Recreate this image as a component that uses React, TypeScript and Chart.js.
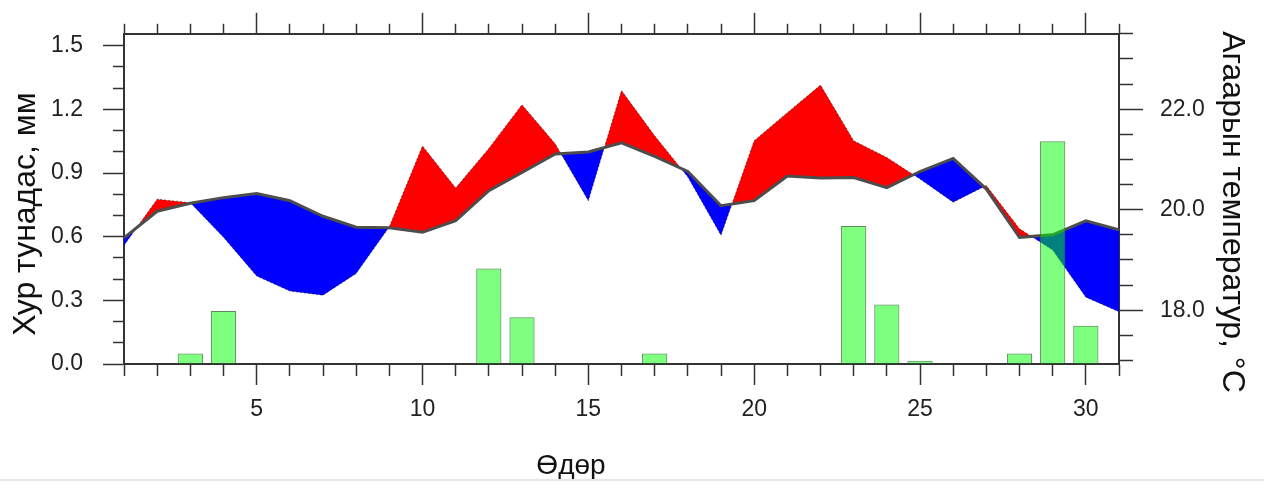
import React, { useEffect, useRef } from "react";
import { Chart, registerables } from "chart.js";

Chart.register(...registerables);

// ---- data ----
const days = [
  1, 2, 3, 4, 5, 6, 7, 8, 9, 10, 11, 12, 13, 14, 15, 16,
  17, 18, 19, 20, 21, 22, 23, 24, 25, 26, 27, 28, 29, 30, 31,
];
const normalTemp = [
  19.44, 19.97, 20.13, 20.24, 20.32, 20.18, 19.87, 19.65, 19.64, 19.55,
  19.78, 20.38, 20.74, 21.11, 21.15, 21.33, 21.06, 20.76, 20.08, 20.18,
  20.67, 20.63, 20.64, 20.44, 20.76, 21.02, 20.41, 19.45, 19.5, 19.78, 19.6,
];
const actualTemp = [
  19.29, 20.21, 20.14, 19.45, 18.68, 18.38, 18.3, 18.73, 19.66, 21.27,
  20.43, 21.22, 22.09, 21.31, 20.18, 22.37, 21.47, 20.65, 19.49, 21.37,
  21.93, 22.48, 21.37, 21.04, 20.61, 20.15, 20.48, 19.62, 19.2, 18.26, 17.97,
];
const rainDays = [3, 4, 12, 13, 17, 23, 24, 25, 28, 29, 30];
const rainValues = [0.05, 0.25, 0.45, 0.22, 0.05, 0.65, 0.28, 0.015, 0.05, 1.05, 0.18];

const xTickLabels = [5, 10, 15, 20, 25, 30];
const rainTickLabels = [0.0, 0.3, 0.6, 0.9, 1.2, 1.5];
const tempTickLabels = [18, 20, 22];

const yTitle = "Хур тунадас, мм";
const y2Title = "Агаарын температур, °С";
const xTitle = "Өдөр";

const FONT = '"Liberation Sans", Arial, Helvetica, sans-serif';
const AXIS_COLOR = "#333333";

const isIn = (v: number, list: number[]) => list.some((t) => Math.abs(t - v) < 1e-6);

const titlesPlugin = {
  id: "axisTitles",
  afterDraw(chart: any) {
    const ctx = chart.ctx as CanvasRenderingContext2D;
    ctx.save();
    ctx.fillStyle = "#111111";
    ctx.textAlign = "center";
    ctx.textBaseline = "alphabetic";

    ctx.font = `32px ${FONT}`;
    ctx.save();
    ctx.translate(35, 214);
    ctx.rotate(-Math.PI / 2);
    ctx.fillText(yTitle, 0, 0);
    ctx.restore();

    ctx.font = `32px ${FONT}`;
    ctx.save();
    ctx.translate(1223, 212);
    ctx.rotate(Math.PI / 2);
    ctx.fillText(y2Title, 0, 0);
    ctx.restore();

    ctx.font = `28px ${FONT}`;
    ctx.fillText(xTitle, 571, 474);
    ctx.restore();
  },
};

export default function App() {
  const canvasRef = useRef<HTMLCanvasElement | null>(null);

  useEffect(() => {
    if (!canvasRef.current) return;

    const tickFont = { family: FONT, size: 23 };

    const chart = new Chart(canvasRef.current, {
      type: "bar",
      data: {
        datasets: [
          {
            type: "bar",
            label: "precip",
            data: rainDays.map((d, i) => ({ x: d, y: rainValues[i] })),
            xAxisID: "x",
            yAxisID: "y",
            backgroundColor: "rgba(0,255,0,0.5)",
            borderColor: "rgba(60,120,60,0.85)",
            borderWidth: 1,
            barPercentage: 0.76,
            categoryPercentage: 1,
            order: 0,
          } as any,
          {
            type: "line",
            label: "normal",
            data: days.map((d, i) => ({ x: d, y: normalTemp[i] })),
            xAxisID: "x",
            yAxisID: "y2",
            borderColor: "#4d4d4d",
            borderWidth: 3,
            pointRadius: 0,
            tension: 0,
            fill: false,
            order: 1,
          } as any,
          {
            type: "line",
            label: "actual",
            data: days.map((d, i) => ({ x: d, y: actualTemp[i] })),
            xAxisID: "x",
            yAxisID: "y2",
            borderColor: "rgba(0,0,0,0.5)",
            borderWidth: 1,
            borderDash: [2, 2],
            pointRadius: 0,
            tension: 0,
            fill: { target: 1, above: "#ff0000", below: "#0000ff" },
            order: 2,
          } as any,
        ],
      },
      options: {
        responsive: true,
        maintainAspectRatio: false,
        animation: false,
        layout: { padding: 0 },
        plugins: {
          legend: { display: false },
          tooltip: { enabled: false },
          title: { display: false },
        },
        scales: {
          x: {
            type: "linear",
            axis: "x",
            position: "bottom",
            min: 1,
            max: 31,
            offset: false,
            border: { display: true, color: AXIS_COLOR, width: 2 },
            grid: {
              offset: false,
              drawOnChartArea: false,
              drawTicks: true,
              tickLength: 21,
              tickWidth: 1.5,
              tickColor: AXIS_COLOR,
              tickBorderDash: (c: any) => (c.tick && !isIn(c.tick.value, xTickLabels) ? [11, 40] : []),
            },
            ticks: {
              stepSize: 1,
              autoSkip: false,
              maxRotation: 0,
              padding: 11,
              color: "#222222",
              font: tickFont,
              callback: (v: any) => (isIn(Number(v), xTickLabels) ? String(v) : ""),
            },
            afterFit: (s: any) => {
              s.height = 118;
            },
          },
          xTop: {
            type: "linear",
            axis: "x",
            position: "top",
            min: 1,
            max: 31,
            offset: false,
            border: { display: true, color: AXIS_COLOR, width: 2 },
            grid: {
              offset: false,
              drawOnChartArea: false,
              drawTicks: true,
              tickLength: 21,
              tickWidth: 1.5,
              tickColor: AXIS_COLOR,
              tickBorderDash: (c: any) => (c.tick && !isIn(c.tick.value, xTickLabels) ? [10, 11] : []),
              tickBorderDashOffset: (c: any) => (c.tick && !isIn(c.tick.value, xTickLabels) ? 10 : 0),
            },
            ticks: {
              stepSize: 1,
              autoSkip: false,
              maxRotation: 0,
              font: tickFont,
              callback: () => "",
            },
            afterFit: (s: any) => {
              s.height = 33;
            },
          },
          y: {
            type: "linear",
            position: "left",
            min: 0,
            max: 1.556,
            border: { display: true, color: AXIS_COLOR, width: 2 },
            grid: {
              drawOnChartArea: false,
              drawTicks: true,
              tickLength: 21,
              tickWidth: 1.5,
              tickColor: AXIS_COLOR,
              tickBorderDash: (c: any) => (c.tick && !isIn(c.tick.value, rainTickLabels) ? [11, 10] : []),
              tickBorderDashOffset: (c: any) => (c.tick && !isIn(c.tick.value, rainTickLabels) ? 11 : 0),
            },
            ticks: {
              stepSize: 0.1,
              includeBounds: false,
              autoSkip: false,
              padding: 20,
              color: "#222222",
              font: tickFont,
              callback: (v: any) => (isIn(Number(v), rainTickLabels) ? Number(v).toFixed(1) : ""),
            },
            afterFit: (s: any) => {
              s.width = 124;
            },
          },
          y2: {
            type: "linear",
            position: "right",
            min: 16.93,
            max: 23.5,
            border: { display: true, color: AXIS_COLOR, width: 2 },
            grid: {
              drawOnChartArea: false,
              drawTicks: true,
              tickLength: 24,
              tickWidth: 1.5,
              tickColor: AXIS_COLOR,
              tickBorderDash: (c: any) => (c.tick && !isIn(c.tick.value, tempTickLabels) ? [13, 40] : []),
            },
            ticks: {
              stepSize: 0.5,
              includeBounds: false,
              autoSkip: false,
              padding: 17,
              color: "#222222",
              font: tickFont,
              callback: (v: any) => (isIn(Number(v), tempTickLabels) ? Number(v).toFixed(1) : ""),
            },
            afterFit: (s: any) => {
              s.width = 145;
            },
          },
        },
      } as any,
      plugins: [titlesPlugin],
    });

    return () => {
      chart.destroy();
    };
  }, []);

  return (
    <div
      style={{
        position: "absolute",
        left: 0,
        top: 0,
        width: 1264,
        height: 482,
        background: "#ffffff",
        overflow: "hidden",
      }}
    >
      <canvas ref={canvasRef} />
      <div
        style={{
          position: "absolute",
          left: 0,
          top: 479,
          width: 1264,
          height: 2,
          background: "#e6e6e6",
        }}
      />
    </div>
  );
}
